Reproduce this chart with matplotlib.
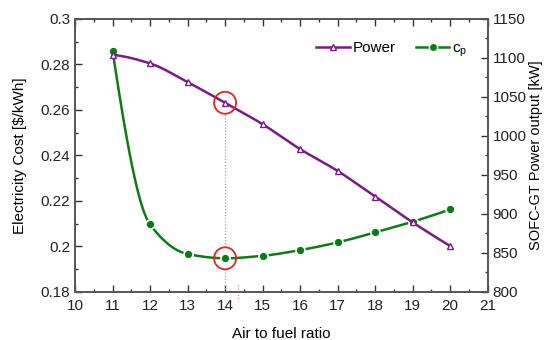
import numpy as np
import matplotlib
matplotlib.use("Agg")
import matplotlib.pyplot as plt
from matplotlib.ticker import MultipleLocator
from matplotlib.patches import Ellipse
from matplotlib.lines import Line2D

plt.rcParams['font.family'] = ['Liberation Sans', 'DejaVu Sans']

ratio = [11, 12, 13, 14, 15, 16, 17, 18, 19, 20]
power_kw = [1104, 1093, 1069, 1042.5, 1015, 983, 955, 922, 889, 858.6]
cost_cp = [0.2861, 0.2096, 0.1966, 0.1947, 0.1958, 0.1983, 0.2017, 0.2061, 0.2108, 0.2162]

purple = '#7a1a86'
green = '#0b7d16'


def smooth(x, y, n=400):
    """Monotone cubic (Fritsch-Carlson) curve through the points, for drawing."""
    x = np.asarray(x, float)
    y = np.asarray(y, float)
    h = np.diff(x)
    d = np.diff(y) / h
    m = np.zeros_like(y)
    for i in range(1, len(x) - 1):
        if d[i - 1] * d[i] <= 0:
            m[i] = 0
        else:
            w1 = 2 * h[i] + h[i - 1]
            w2 = h[i] + 2 * h[i - 1]
            m[i] = (w1 + w2) / (w1 / d[i - 1] + w2 / d[i])
    m[0] = ((2 * h[0] + h[1]) * d[0] - h[0] * d[1]) / (h[0] + h[1])
    if np.sign(m[0]) != np.sign(d[0]):
        m[0] = 0
    m[-1] = ((2 * h[-1] + h[-2]) * d[-1] - h[-1] * d[-2]) / (h[-1] + h[-2])
    if np.sign(m[-1]) != np.sign(d[-1]):
        m[-1] = 0
    xs = np.linspace(x[0], x[-1], n)
    idx = np.clip(np.searchsorted(x, xs) - 1, 0, len(x) - 2)
    t = (xs - x[idx]) / h[idx]
    h00 = 2 * t ** 3 - 3 * t ** 2 + 1
    h10 = t ** 3 - 2 * t ** 2 + t
    h01 = -2 * t ** 3 + 3 * t ** 2
    h11 = t ** 3 - t ** 2
    ys = h00 * y[idx] + h10 * h[idx] * m[idx] + h01 * y[idx + 1] + h11 * h[idx] * m[idx + 1]
    return xs, ys


fig = plt.figure(figsize=(5.45, 3.4), dpi=100)
ax = fig.add_axes([75 / 545, 1 - 291.7 / 340, (487.7 - 75) / 545, (291.7 - 19) / 340])
ax2 = ax.twinx()

ax.set_xlim(10, 21)
ax.set_ylim(0.18, 0.30)
ax2.set_ylim(800, 1150)

# cost curve on left axis
xs, ys = smooth(ratio, cost_cp)
ax.plot(xs, ys, color=green, lw=1.8, zorder=3)
ax.plot(ratio, cost_cp, 'o', color=green, mec='white', mew=1.2, ms=6.5, zorder=4)

# power curve on right axis
xs2, ys2 = smooth(ratio, power_kw)
ax2.plot(xs2, ys2, color=purple, lw=1.8, zorder=3)
ax2.plot(ratio, power_kw, '^', mfc='white', mec=purple, mew=1.0, ms=5, zorder=4)

# legend
h1 = Line2D([], [], color=purple, lw=1.8, marker='^', mfc='white', mec=purple, ms=5)
h2 = Line2D([], [], color=green, lw=1.8, marker='o', mec='white', mew=1.0, ms=6)
ax2.legend([h1, h2], ['Power', r'c$_\mathregular{p}$'], loc='upper right', ncol=2,
           frameon=False, fontsize=11, handlelength=2.2, handletextpad=0.2,
           columnspacing=1.3, bbox_to_anchor=(0.985, 0.97))

# red circles and dotted guides
fig_w, fig_h = 545, 340
pw14 = power_kw[3]
cp14 = cost_cp[3]
r_px = 11
inv = fig.transFigure.inverted()
for (yv, a) in [(pw14, ax2), (cp14, ax)]:
    c = inv.transform(a.transData.transform((14, yv)))
    e = Ellipse(c, 2 * r_px / fig_w, 2 * r_px / fig_h, transform=fig.transFigure,
                fill=False, ec='#e8201e', lw=1.3, zorder=6)
    fig.patches.append(e)

p_top = ax2.transData.transform((14, pw14))[1] - r_px
p_mid_top = ax.transData.transform((14, cp14))[1] + r_px
p_mid_bot = ax.transData.transform((14, cp14))[1] - r_px
inv_y = ax.transData.inverted()
y_top = inv_y.transform((0, p_top))[1]
y_mt = inv_y.transform((0, p_mid_top))[1]
y_mb = inv_y.transform((0, p_mid_bot))[1]
dot = dict(ls=(0, (1, 1.5)), color='#f08080', lw=0.9, zorder=2)
ax.plot([14, 14], [y_mt, y_top], **dot)
ax.plot([14, 14], [0.18, y_mb], **dot)
ax.plot([14.35, 14.35], [0.18 + 6.7 / 2272, 0.18 - 9 / 2272], clip_on=False, **dot)

# ticks
ax.xaxis.set_major_locator(MultipleLocator(1))
ax.xaxis.set_minor_locator(MultipleLocator(0.5))
ax.yaxis.set_minor_locator(MultipleLocator(0.01))
ax2.yaxis.set_major_locator(MultipleLocator(50))
ax2.yaxis.set_minor_locator(MultipleLocator(25))
ax.set_yticks([0.18, 0.2, 0.22, 0.24, 0.26, 0.28, 0.3])
ax.set_yticklabels(['0.18', '0.2', '0.22', '0.24', '0.26', '0.28', '0.3'])

ax.tick_params(axis='both', which='both', direction='in', top=True, right=False,
               labelsize=11, colors='#333333', labelcolor='#222222')
ax.tick_params(which='major', length=5, width=1)
ax.tick_params(which='minor', length=2.5, width=1)
ax2.tick_params(axis='y', which='both', direction='in', labelsize=11,
                colors='#333333', labelcolor='#222222')
ax2.tick_params(which='major', length=5, width=1)
ax2.tick_params(which='minor', length=2.5, width=1)
ax.tick_params(axis='x', pad=5)

for a in (ax, ax2):
    for s in a.spines.values():
        s.set_color('#555555')
        s.set_linewidth(1.2)

ax.set_xlabel('Air to fuel ratio', fontsize=11, labelpad=10)
ax.set_ylabel('Electricity Cost [$/kWh]', fontsize=11, labelpad=10)
ax2.set_ylabel('SOFC-GT Power output [kW]', fontsize=10.5, labelpad=2)

fig.savefig('out.png', dpi=100)
